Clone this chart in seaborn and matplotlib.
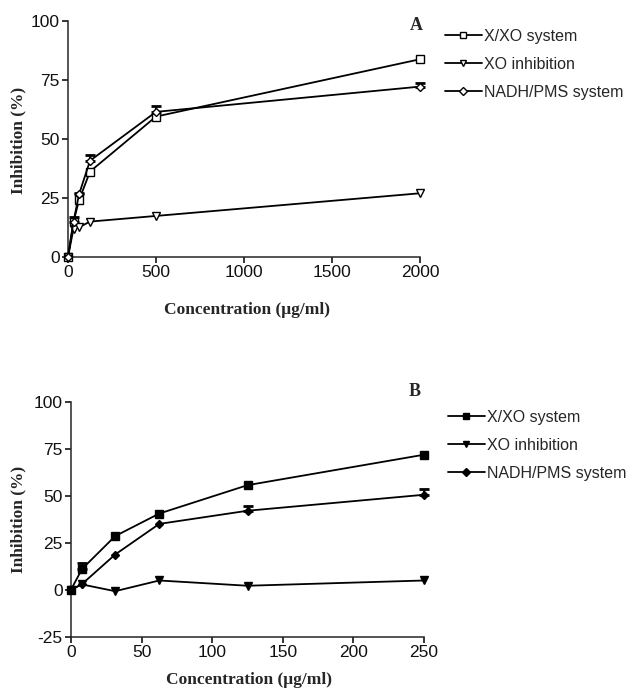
import numpy as np
import pandas as pd
import matplotlib
matplotlib.use("Agg")
import matplotlib.pyplot as plt
import seaborn as sns

# Panel A: concentrations and inhibition (%) for each assay
conc_a = [0, 31.25, 62.5, 125, 500, 2000]
xxo_a = [0, 15.0, 24.0, 36.2, 59.5, 83.8]
xxo_a_err = [0, 1.8, 0.0, 0.0, 0.0, 0.0]
xo_a = [0, 12.0, 12.6, 15.0, 17.4, 27.0]
xo_a_err = [0, 0, 0, 0, 0, 0]
nadh_a = [0, 15.0, 26.5, 40.8, 61.5, 72.2]
nadh_a_err = [0, 0.0, 0.8, 2.4, 2.5, 1.7]

# Panel B
conc_b = [0, 7.8, 31.25, 62.5, 125, 250]
xxo_b = [0, 11.0, 28.5, 40.5, 55.6, 71.8]
xxo_b_err = [0, 3.2, 0, 0, 0, 0]
xo_b = [0, 2.8, -0.8, 4.9, 2.1, 4.9]
xo_b_err = [0, 0, 0, 0, 0, 0]
nadh_b = [0, 3.0, 18.7, 35.0, 42.0, 50.5]
nadh_b_err = [0, 0, 0, 0, 2.4, 3.1]

series_names = ["X/XO system", "XO inhibition", "NADH/PMS system"]

sns.set_style("ticks")
plt.rcParams["font.family"] = ["Liberation Sans", "DejaVu Sans"]
plt.rcParams["axes.linewidth"] = 1.1
plt.rcParams["axes.unicode_minus"] = False

fig = plt.figure(figsize=(6.29, 6.9), dpi=100)
W, H = 629.0, 690.0


def px_axes(left, top, right, bottom):
    return fig.add_axes([left / W, 1 - bottom / H, (right - left) / W, (bottom - top) / H])


ax_a = px_axes(68, 21, 420, 257)
ax_b = px_axes(71, 401.7, 424, 636.7)

serif = ["Liberation Serif", "DejaVu Serif"]


def draw_panel(ax, x, ys, errs, markers, filled, xlim, ylim, xticks, yticks,
               tag, tag_xy, leg_xy, xlab_xy, ylab_xy):
    handles = []
    for name, y, e, m in zip(series_names, ys, errs, markers):
        df = pd.DataFrame({"x": x, "y": y})
        fc = "black" if filled else "white"
        sns.lineplot(data=df, x="x", y="y", ax=ax, color="black", lw=1.3,
                     marker=m, markersize=5.2 if m != "D" else 4.3,
                     markerfacecolor=fc, markeredgecolor="black",
                     markeredgewidth=1.0, label=name, clip_on=False,
                     zorder=3, legend=False)
        line = ax.lines[-1]
        handles.append(line)
        e = np.asarray(e, dtype=float)
        mask = e > 0
        if mask.any():
            xa = np.asarray(x, dtype=float)[mask]
            ya = np.asarray(y, dtype=float)[mask]
            ax.errorbar(xa, ya, yerr=[np.zeros(mask.sum()), e[mask]], fmt="none",
                        ecolor="black", elinewidth=1.3, capsize=3.5, capthick=2.0,
                        zorder=2, clip_on=False)
    ax.set_xlim(*xlim)
    ax.set_ylim(*ylim)
    ax.set_xticks(xticks)
    ax.set_yticks(yticks)
    ax.tick_params(labelsize=12.5, length=4, width=1.1, direction="out", colors="black", pad=2)
    for t in ax.get_xticklabels() + ax.get_yticklabels():
        t.set_color("#111111")
    sns.despine(ax=ax)
    ax.set_xlabel("Concentration (μg/ml)", family=serif, fontweight="bold", fontsize=12.5)
    ax.set_ylabel("Inhibition (%)", family=serif, fontweight="bold", fontsize=12.5)
    ax.xaxis.set_label_coords(*xlab_xy)
    ax.yaxis.set_label_coords(*ylab_xy)
    fig.text(tag_xy[0] / W, 1 - tag_xy[1] / H, tag, family=serif, fontweight="bold",
             fontsize=13, ha="center", va="center")
    leg = fig.legend(handles=handles, labels=series_names, loc="upper left",
                     bbox_to_anchor=(leg_xy[0] / W, 1 - leg_xy[1] / H),
                     frameon=False, fontsize=11.5, handlelength=2.3,
                     handletextpad=0.15, labelspacing=0.8, borderaxespad=0,
                     borderpad=0, markerscale=0.85)
    return leg


draw_panel(ax_a, conc_a, [xxo_a, xo_a, nadh_a], [xxo_a_err, xo_a_err, nadh_a_err],
           ["s", "v", "D"], False, (0, 2000), (0, 100),
           [0, 500, 1000, 1500, 2000], [0, 25, 50, 75, 100],
           "A", (416, 25), (445, 29), (0.508, -0.19), (-0.119, 0.496))

draw_panel(ax_b, conc_b, [xxo_b, xo_b, nadh_b], [xxo_b_err, xo_b_err, nadh_b_err],
           ["s", "v", "D"], True, (0, 250), (-25, 100),
           [0, 50, 100, 150, 200, 250], [-25, 0, 25, 50, 75, 100],
           "B", (415, 392), (448, 410), (0.505, -0.15), (-0.127, 0.497))

fig.savefig("out.png", dpi=100, facecolor="white")
